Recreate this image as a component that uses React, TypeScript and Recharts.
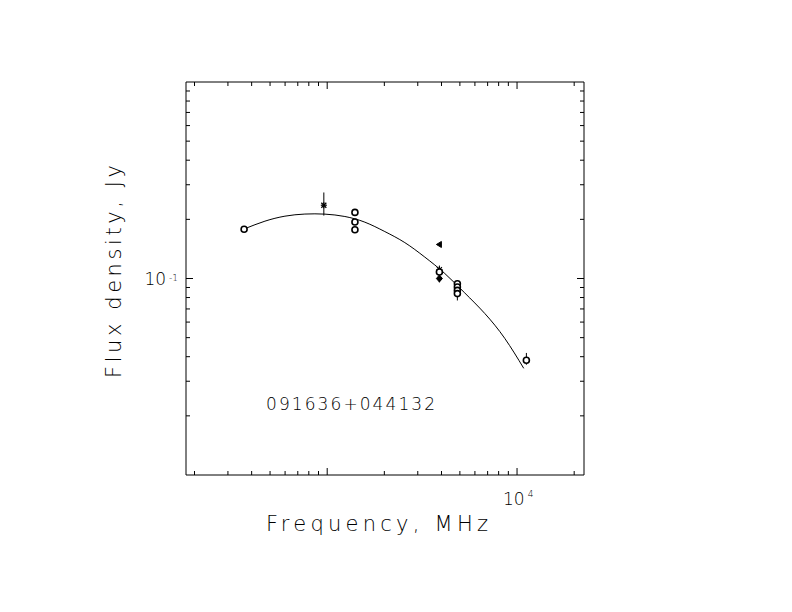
import { ComposedChart, ErrorBar, Line, Scatter, XAxis, YAxis } from "recharts";

// fitted spectrum
const fitFreq = [369, 470, 599, 763, 973, 1239, 1579, 2012, 2564, 3268, 4165, 5306, 6761, 8615, 10847];
const fitFlux = [0.1794, 0.1958, 0.2076, 0.2128, 0.2126, 0.2068, 0.1935, 0.1733, 0.1523, 0.1285, 0.106, 0.0844, 0.0664, 0.0496, 0.0349];

// open circles
const circleFreq = [365, 1400, 1400, 1400, 3900, 4850, 4850, 4850, 4850, 11200];
const circleFlux = [0.178, 0.217, 0.194, 0.177, 0.108, 0.094, 0.0905, 0.087, 0.0838, 0.0384];
const circleErr = [[0, 0], [0, 0], [0, 0], [0, 0], [0, 0], [0, 0], [0, 0], [0.0097, 0.0107], [0, 0], [0.002, 0.0034]];

// asterisks with error bars
const starFreq = [960, 3900];
const starFlux = [0.236, 0.111];
const starErr = [[0.027, 0.038], [0.0156, 0.0054]];

const triFreq = [3900];
const triFlux = [0.149];

const diamondFreq = [3900];
const diamondFlux = [0.1];

const xTicks = [200, 300, 400, 500, 600, 700, 800, 900, 1000, 2000, 3000, 4000, 5000, 6000, 7000, 8000, 9000, 10000, 20000];
const xMajor = [1000, 10000];
const yTicks = [0.02, 0.03, 0.04, 0.05, 0.06, 0.07, 0.08, 0.09, 0.1, 0.2, 0.3, 0.4, 0.5, 0.6, 0.7, 0.8, 0.9];
const yMajor = [0.1];

const curve = fitFreq.map((f, i) => ({ f, s: fitFlux[i] }));
const circles = circleFreq.map((f, i) => ({ f, s: circleFlux[i], err: circleErr[i] }));
const stars = starFreq.map((f, i) => ({ f, s: starFlux[i], err: starErr[i] }));
const tris = triFreq.map((f, i) => ({ f, s: triFlux[i] }));
const diamonds = diamondFreq.map((f, i) => ({ f, s: diamondFlux[i] }));

const FONT = "'DejaVu Sans', sans-serif";

const xTick = (side: "bottom" | "top") => (p: any) => {
  const v = p.payload.value;
  const len = xMajor.includes(v) ? 7 : 4;
  const dir = side === "bottom" ? -1 : 1;
  return (
    <g>
      <line x1={p.x} x2={p.x} y1={p.y} y2={p.y + dir * len} stroke="#000" />
      {side === "bottom" && v === 10000 && (
        <text x={p.x - 14} y={p.y + 30} fontSize={17} fontFamily={FONT} fontWeight={200} fill="#000">
          10<tspan dx={3} dy={-8} fontSize={9}>4</tspan>
        </text>
      )}
    </g>
  );
};

const yTick = (side: "left" | "right") => (p: any) => {
  const v = p.payload.value;
  const len = yMajor.includes(v) ? 7 : 4;
  const dir = side === "left" ? 1 : -1;
  return (
    <g>
      <line x1={p.x} x2={p.x + dir * len} y1={p.y} y2={p.y} stroke="#000" />
      {side === "left" && v === 0.1 && (
        <text x={p.x - 8} y={p.y + 6} textAnchor="end" fontSize={17} fontFamily={FONT} fontWeight={200} fill="#000">
          10<tspan dx={3} dy={-4} fontSize={9}>-1</tspan>
        </text>
      )}
    </g>
  );
};

const Circle = (p: any) => <circle cx={p.cx} cy={p.cy} r={3} fill="#fff" stroke="#000" strokeWidth={1.6} />;

const Star = (p: any) => (
  <g stroke="#000" strokeWidth={1.2}>
    <line x1={p.cx - 3} x2={p.cx + 3} y1={p.cy} y2={p.cy} />
    <line x1={p.cx - 2.5} x2={p.cx + 2.5} y1={p.cy - 2.5} y2={p.cy + 2.5} />
    <line x1={p.cx - 2.5} x2={p.cx + 2.5} y1={p.cy + 2.5} y2={p.cy - 2.5} />
    <line x1={p.cx} x2={p.cx} y1={p.cy - 3} y2={p.cy + 3} />
  </g>
);

const Tri = (p: any) => (
  <polygon points={`${p.cx - 3},${p.cy} ${p.cx + 2},${p.cy - 3} ${p.cx + 2},${p.cy + 3}`} fill="#000" stroke="#000" />
);

const Diamond = (p: any) => (
  <polygon points={`${p.cx},${p.cy - 3.5} ${p.cx + 3},${p.cy} ${p.cx},${p.cy + 3.5} ${p.cx - 3},${p.cy}`} fill="#000" stroke="#000" />
);

const xCommon = {
  dataKey: "f",
  type: "number" as const,
  scale: "log" as const,
  domain: [180.4, 22530],
  allowDataOverflow: true,
  ticks: xTicks,
  interval: 0,
  height: 1,
  tickSize: 0,
  tickMargin: 0,
  tickLine: false,
  axisLine: { stroke: "#000" },
};

const yCommon = {
  dataKey: "s",
  type: "number" as const,
  scale: "log" as const,
  domain: [0.01, 1],
  allowDataOverflow: true,
  ticks: yTicks,
  interval: 0,
  width: 1,
  tickSize: 0,
  tickMargin: 0,
  tickLine: false,
  axisLine: { stroke: "#000" },
};

export default function App() {
  return (
    <div style={{ position: "absolute", left: 0, top: 0, width: 792, height: 612, background: "#fff" }}>
      <ComposedChart width={792} height={612} margin={{ top: 81, right: 207, bottom: 136, left: 185 }}>
        <XAxis {...xCommon} tick={xTick("bottom")} />
        <XAxis {...xCommon} xAxisId="top" orientation="top" tick={xTick("top")} />
        <YAxis {...yCommon} tick={yTick("left")} />
        <YAxis {...yCommon} yAxisId="right" orientation="right" tick={yTick("right")} />
        <Line
          xAxisId="top"
          yAxisId="right"
          data={curve}
          dataKey="s"
          stroke="none"
          dot={false}
          activeDot={false}
          isAnimationActive={false}
        />
        <Line
          data={curve}
          dataKey="s"
          type="natural"
          stroke="#000"
          strokeWidth={1}
          dot={false}
          activeDot={false}
          isAnimationActive={false}
        />
        <Scatter data={stars} dataKey="s" shape={Star} isAnimationActive={false}>
          <ErrorBar dataKey="err" direction="y" width={0} stroke="#000" strokeWidth={1} />
        </Scatter>
        <Scatter data={circles} dataKey="s" shape={Circle} isAnimationActive={false}>
          <ErrorBar dataKey="err" direction="y" width={0} stroke="#000" strokeWidth={1} />
        </Scatter>
        <Scatter data={tris} dataKey="s" shape={Tri} isAnimationActive={false} />
        <Scatter data={diamonds} dataKey="s" shape={Diamond} isAnimationActive={false} />
      </ComposedChart>
      <svg width={792} height={612} style={{ position: "absolute", left: 0, top: 0, pointerEvents: "none" }}>
        <g fontFamily={FONT} fontWeight={200} fill="#000">
          <text x={266} y={531} fontSize={21} textLength={222} lengthAdjust="spacing">
            Frequency, MHz
          </text>
          <text transform="translate(121,378) rotate(-90)" fontSize={21} textLength={213} lengthAdjust="spacing">
            Flux density, Jy
          </text>
          <text x={266} y={410} fontSize={17} textLength={169} lengthAdjust="spacing">
            091636+044132
          </text>
        </g>
      </svg>
    </div>
  );
}
